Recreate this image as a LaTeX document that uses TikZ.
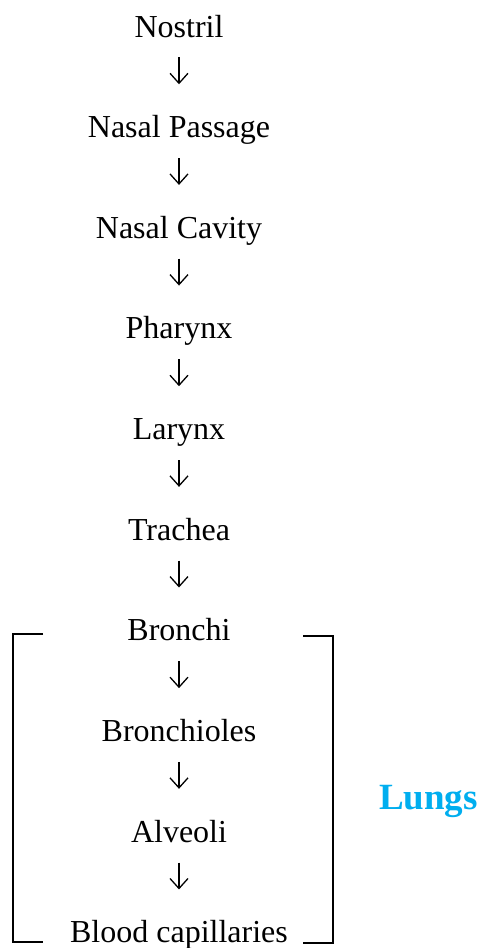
\documentclass[tikz,border=0pt]{standalone}
\usepackage{fontspec}
\setmainfont{Liberation Serif}
\usepackage{xcolor}
\usetikzlibrary{arrows.meta}
\definecolor{lungblue}{RGB}{0,174,239}

\tikzset{
	organ/.style={font=\fontsize{16}{18}\selectfont, anchor=base, inner sep=0pt, text height=11pt, text depth=3.5pt},
	flow/.style={line width=0.65pt, -{Straight Barb[length=5pt,width=9pt,line width=0.65pt]}, shorten <=6.5pt, shorten >=15.5pt},
	bracket/.style={line width=1pt}
}

\begin{document}
\begin{tikzpicture}[x=0.5pt,y=-0.5pt]
		\useasboundingbox (0,0) rectangle (482,948);
		
		% the path of the air
		\foreach \name/\txt [count=\k] in {nostril/Nostril, passage/Nasal Passage, cavity/Nasal Cavity, pharynx/Pharynx, larynx/Larynx, trachea/Trachea, bronchi/Bronchi, bronchioles/Bronchioles, alveoli/Alveoli, capillaries/Blood capillaries}
		{
		\node[organ] (\name) at (179,37+100.65*\k-100.65) {\txt};
		}
		\foreach \a/\b in {nostril/passage, passage/cavity, cavity/pharynx, pharynx/larynx, larynx/trachea, trachea/bronchi, bronchi/bronchioles, bronchioles/alveoli, alveoli/capillaries}
		{
		\draw[flow] (\a) -- (\b);
		}
		
		% lungs bracket
		\draw[bracket] (43,634) to (12.5,634) to (12.5,942) to (43,942);
		\draw[bracket] (303,636) to (333,636) to (333,943) to (303,943);
		\node[font=\fontsize{18.5}{20}\selectfont\bfseries, text=lungblue, inner sep=0pt] (lungs) at (428.5,801) {Lungs};
	\end{tikzpicture}
\end{document}
